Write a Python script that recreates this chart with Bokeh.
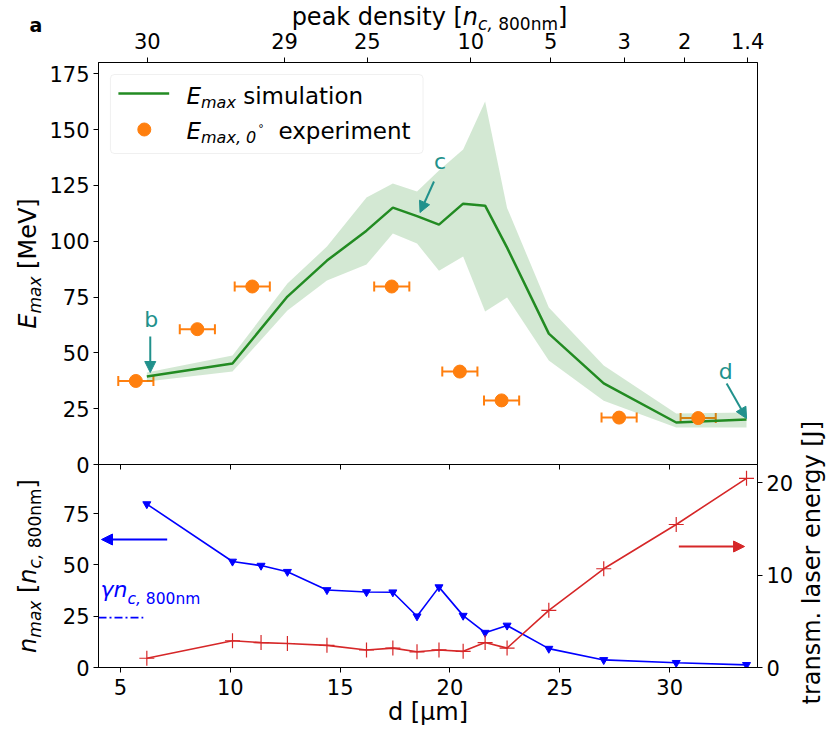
import math
from bokeh.plotting import figure
from bokeh.models import (Range1d, LinearAxis, FixedTicker, Label, Arrow, NormalHead,
                          Whisker, TeeHead, ColumnDataSource, BoxAnnotation)
from bokeh.layouts import column, row
from bokeh.embed import file_html
from bokeh.resources import INLINE

# ---------------- data ----------------
d_sim = [6.2, 10.1, 12.6, 14.4, 16.2, 17.4, 18.5, 19.5, 20.6, 21.6, 22.6, 24.5, 27.0, 30.3, 33.5]
E_sim = [39.4, 45.2, 75.2, 91.3, 104.7, 115.0, 111.2, 107.4, 116.8, 115.9, 97.1, 58.6, 36.3, 18.8, 20.1]
E_sim_hi = [41.2, 48.8, 81.0, 97.6, 119.5, 125.8, 122.2, 131.6, 141.0, 162.5, 114.9, 70.3, 44.3, 22.8, 23.3]
E_sim_lo = [37.2, 41.6, 68.9, 82.4, 89.5, 103.4, 98.9, 86.8, 93.1, 68.5, 74.8, 46.6, 28.6, 16.6, 16.6]

d_exp = [5.7, 8.5, 11.0, 17.35, 20.45, 22.35, 27.7, 31.3]
E_exp = [37.4, 60.6, 79.7, 79.7, 41.6, 28.7, 21.0, 20.8]
d_exp_err = [0.8, 0.8, 0.8, 0.8, 0.8, 0.8, 0.8, 0.8]

d_low = [6.2, 10.1, 11.4, 12.6, 14.4, 16.2, 17.4, 18.5, 19.5, 20.6, 21.6, 22.6, 24.5, 27.0, 30.3, 33.5]
n_max = [79.7, 51.7, 49.7, 46.7, 37.8, 36.8, 36.7, 25.0, 39.2, 25.3, 17.0, 20.5, 9.2, 3.7, 2.3, 1.3]
E_trans = [1.0, 2.9, 2.7, 2.6, 2.4, 1.9, 2.1, 1.7, 1.9, 1.75, 2.7, 2.1, 6.2, 10.7, 15.5, 20.5]
gamma_nc = 24.3

top_tick_pos = [6.22, 12.47, 16.24, 20.95, 24.58, 27.93, 30.69, 33.55]
top_tick_lbl = ["30", "29", "25", "10", "5", "3", "2", "1.4"]
E_ticks = [0, 25, 50, 75, 100, 125, 150, 175]
n_ticks = [0, 25, 50, 75]
J_ticks = [0, 10, 20]
d_ticks = [5, 10, 15, 20, 25, 30]

# ---------------- layout constants (page pixels) ----------------
FONT = "DejaVu Sans"
PW, PH = 827, 730
LW, RW, HH = 46, 31, 34           # left strip, right strip, header height
FL, FR = 97, 759                  # frame left / right
T_TOP, T_BOT = 62, 464            # top panel frame
B_BOT = 667                       # bottom panel frame bottom
OV = 14                           # overlap of bottom row onto top panel border
OH = 12                           # overlap of top panel onto header
MW = PW - LW - RW                 # main column width
XMIN, XMAX = 4, 34
EMAX, NMAX, JMAX = 180, 99, 22
BL = 0.29                         # baseline correction (fraction of font size)

GREEN = "#228b22"
ORANGE = "#ff7f0e"
BLUE = "#0000ff"
RED = "#d62728"
TEAL = "#21918c"

TICK_FS = "21px"
LAB, SUB = 24, 17
LEG, LSUB = 23, 16

def px2d(px):
    return XMIN + (px - FL) * (XMAX - XMIN) / (FR - FL)

def py2E(py):
    return (T_BOT - py) * EMAX / (T_BOT - T_TOP)

def py2n(py):
    return (B_BOT - py) * NMAX / (B_BOT - T_BOT)

def py2J(py):
    return (B_BOT - py) * JMAX / (B_BOT - T_BOT)

W_EM = {' ': .318, ',': .318, '.': .318, '[': .390, ']': .390, 'a': .613, 'b': .635, 'c': .550,
        'd': .635, 'e': .615, 'g': .635, 'i': .278, 'k': .579, 'l': .278, 'm': .974, 'n': .634,
        'o': .612, 'p': .635, 'r': .411, 's': .521, 't': .392, 'u': .634, 'x': .592, 'y': .592,
        'E': .632, 'J': .295, 'M': .863, 'V': .684, 'µ': .636, 'γ': .592, '°': .5}
for ch in "0123456789":
    W_EM[ch] = .636

def tw(s, size):
    return sum(W_EM.get(c, 0.6) for c in s) * size

def total(pieces):
    return sum(tw(p[0], p[1]) for p in pieces)

def rich(fig, ax_px, ax_py, x_px, y_px, pieces, vertical=False):
    """Place text pieces; (ax_px, ax_py) is the page pixel of data point (x_range.start, y_range.start)."""
    cum = 0.0
    for txt, size, style, shift, color in pieces:
        lead = len(txt) - len(txt.lstrip(' '))
        t = txt.lstrip(' ')
        c = cum + lead * .318 * size
        comp = BL * size
        if not vertical:
            xo, yo, ang = x_px - ax_px + c, ax_py - (y_px + shift) + comp, 0
        else:
            xo, yo, ang = x_px + shift - ax_px - comp, ax_py - y_px + c, math.pi / 2
        fig.add_layout(Label(x=fig.x_range.start, y=fig.y_range.start, x_offset=xo, y_offset=yo,
                             text=t, text_font=FONT, text_font_size=f"{size}px",
                             text_font_style=style, text_color=color, text_align="left",
                             text_baseline="alphabetic", angle=ang))
        cum += tw(txt, size)
    return cum

def style_axis(ax):
    ax.major_label_text_font = FONT
    ax.major_label_text_font_size = TICK_FS
    ax.major_label_text_color = "black"
    ax.major_tick_out = 5
    ax.major_tick_in = 0
    ax.minor_tick_out = 0
    ax.minor_tick_in = 0
    ax.axis_line_color = "black"
    ax.major_tick_line_color = "black"
    ax.major_label_standoff = 5

def strip(w, h):
    f = figure(width=w, height=h, x_range=Range1d(0, w), y_range=Range1d(0, h), title=None,
               output_backend="svg", toolbar_location=None, min_border=0,
               x_axis_location=None, y_axis_location=None)
    f.grid.visible = False
    f.outline_line_color = None
    f.background_fill_color = "white"
    f.border_fill_color = "white"
    return f

def arrow(fig, x0, y0, x1, y1, color, rng=None):
    kw = dict(y_range_name=rng) if rng else {}
    fig.add_layout(Arrow(end=NormalHead(size=11, fill_color=color, line_color=color),
                         x_start=x0, y_start=y0, x_end=x1, y_end=y1,
                         line_color=color, line_width=2, **kw))

xr = Range1d(XMIN, XMAX)

# ---------------- top panel ----------------
top = figure(width=MW, height=T_BOT + OV - HH + OH, x_range=xr, y_range=Range1d(0, EMAX), title=None,
             x_axis_location="above", output_backend="svg", toolbar_location=None,
             min_border_left=FL - LW, min_border_right=PW - RW - FR,
             min_border_top=T_TOP - HH + OH, min_border_bottom=OV)
top.margin = (-OH, 0, 0, 0)
top.grid.visible = False
top.outline_line_color = "black"
top.outline_line_alpha = 1
top.background_fill_color = "white"
top.border_fill_alpha = 0
top.xaxis.ticker = FixedTicker(ticks=top_tick_pos)
top.xaxis.major_label_overrides = {p: l for p, l in zip(top_tick_pos, top_tick_lbl)}
top.yaxis.ticker = FixedTicker(ticks=E_ticks)
# ticks of the shared x axis at the bottom edge of the upper panel (labels hidden)
inner_ax = LinearAxis(ticker=FixedTicker(ticks=d_ticks), major_label_text_font_size="1px",
                      major_label_text_alpha=0, major_label_standoff=0, major_tick_out=5,
                      major_tick_in=0, minor_tick_out=0, minor_tick_in=0,
                      axis_line_color=None, major_tick_line_color="black")
top.add_layout(inner_ax, "below")
for ax in top.xaxis[:1] + top.yaxis:
    style_axis(ax)
top.xaxis[0].major_label_standoff = 9
top.yaxis.major_label_standoff = 4

top.varea(x=d_sim, y1=E_sim_lo, y2=E_sim_hi, fill_color=GREEN, fill_alpha=0.2)
top.line(d_sim, E_sim, line_color=GREEN, line_width=2.5)

src = ColumnDataSource(dict(base=E_exp, lower=[d - e for d, e in zip(d_exp, d_exp_err)],
                            upper=[d + e for d, e in zip(d_exp, d_exp_err)]))
top.add_layout(Whisker(source=src, base="base", lower="lower", upper="upper", dimension="width",
                       line_color=ORANGE, line_width=2,
                       upper_head=TeeHead(size=10, line_color=ORANGE, line_width=2),
                       lower_head=TeeHead(size=10, line_color=ORANGE, line_width=2)))
top.scatter(d_exp, E_exp, size=13, fill_color=ORANGE, line_color=ORANGE)

arrow(top, px2d(149), py2E(336), px2d(149), py2E(372), TEAL)
arrow(top, px2d(434), py2E(181), px2d(420), py2E(212), TEAL)
arrow(top, px2d(728), py2E(383), px2d(748), py2E(418), TEAL)
for txt, px, py in [("b", 150, 325), ("c", 440, 167), ("d", 727, 377)]:
    top.add_layout(Label(x=px2d(px), y=py2E(py), y_offset=BL * 22, text=txt, text_font=FONT,
                         text_font_size="22px", text_color=TEAL, text_align="center",
                         text_baseline="alphabetic"))

# legend
top.add_layout(BoxAnnotation(left=px2d(109), right=px2d(423), top=py2E(74), bottom=py2E(153),
                             fill_color="white", fill_alpha=0.8, line_color="#cccccc",
                             line_width=1, border_radius=4, level="underlay"))
top.line([px2d(117), px2d(168)], [py2E(93), py2E(93)], line_color=GREEN, line_width=2.5)
top.scatter([px2d(143)], [py2E(129)], size=13, fill_color=ORANGE, line_color=ORANGE)
rich(top, FL, T_BOT, 185, 102, [("E", LEG, "italic", 0, "black"), ("max", LSUB, "italic", 5, "black"),
                                 (" simulation", LEG, "normal", 0, "black")])
w = rich(top, FL, T_BOT, 185, 137, [("E", LEG, "italic", 0, "black"), ("max, 0", LSUB, "italic", 5, "black")])
rich(top, FL, T_BOT, 185 + w + 2, 131, [("°", 11, "normal", 0, "black")])
rich(top, FL, T_BOT, 277, 137, [("experiment", LEG, "normal", 0, "black")])

# ---------------- bottom panel ----------------
bot = figure(width=MW, height=PH - T_BOT, x_range=xr, y_range=Range1d(0, NMAX), title=None,
             output_backend="svg", toolbar_location=None,
             min_border_left=FL - LW, min_border_right=PW - RW - FR, min_border_top=0,
             min_border_bottom=PH - B_BOT)
bot.margin = (-OV, 0, 0, 0)
bot.extra_y_ranges = {"right": Range1d(0, JMAX)}
bot.add_layout(LinearAxis(y_range_name="right", ticker=FixedTicker(ticks=J_ticks)), "right")
bot.grid.visible = False
bot.outline_line_color = "black"
bot.outline_line_alpha = 1
bot.border_fill_alpha = 0
bot.background_fill_alpha = 0
bot.xaxis.ticker = FixedTicker(ticks=d_ticks)
bot.yaxis[0].ticker = FixedTicker(ticks=n_ticks)
for ax in bot.xaxis + bot.yaxis:
    style_axis(ax)
bot.yaxis[0].major_label_standoff = 4
bot.yaxis[1].major_label_standoff = 4
bot.xaxis.major_label_standoff = 6
bot.xaxis.axis_label = "d [µm]"
bot.xaxis.axis_label_text_font = FONT
bot.xaxis.axis_label_text_font_size = f"{LAB}px"
bot.xaxis.axis_label_text_font_style = "normal"
bot.xaxis.axis_label_text_color = "black"
bot.xaxis.axis_label_standoff = 0

bot.line(d_low, n_max, line_color=BLUE, line_width=1.6)
bot.scatter(d_low, n_max, marker="inverted_triangle", size=8, fill_color=BLUE, line_color=BLUE)
bot.line(d_low, E_trans, line_color=RED, line_width=1.6, y_range_name="right")
bot.scatter(d_low, E_trans, marker="cross", size=15, line_color=RED, line_width=1.2,
            y_range_name="right")
bot.line([XMIN, px2d(142)], [gamma_nc, gamma_nc], line_color=BLUE, line_width=1.6,
         line_dash="8 3 2 3")

arrow(bot, px2d(166), py2n(539), px2d(100), py2n(539), BLUE)
arrow(bot, px2d(680), py2J(546), px2d(746), py2J(546), RED, rng="right")

rich(bot, FL, B_BOT, 99, 595, [("γn", 22, "italic", 0, BLUE), ("c,", 15.5, "italic", 8, BLUE),
                                (" 800nm", 15.5, "normal", 8, BLUE)])

# ---------------- header (top axis title); its frame is aligned with the panels ----------------
head = strip(MW, HH)
tlab = [("peak density [", LAB, "normal", 0, "black"), ("n", LAB, "italic", 0, "black"),
        ("c,", SUB, "italic", 5, "black"), (" 800nm", SUB, "normal", 5, "black"),
        ("]", LAB, "normal", 0, "black")]
rich(head, FL, HH, (FL + FR) / 2 - total(tlab) / 2, 23, tlab)

# ---------------- left strip (panel letter, y-axis titles) ----------------
left = strip(LW, PH)
rich(left, 0, PH, 29, 30, [("a", 19, "bold", 0, "black")])
ylab = [("E", LAB, "italic", 0, "black"), ("max", SUB, "italic", 5, "black"),
        (" [MeV]", LAB, "normal", 0, "black")]
rich(left, 0, PH, 34, (T_TOP + T_BOT) / 2 + total(ylab) / 2, ylab, vertical=True)
nlab = [("n", LAB, "italic", 0, "black"), ("max", SUB, "italic", 5, "black"),
        (" [", LAB, "normal", 0, "black"), ("n", LAB, "italic", 0, "black"),
        ("c,", SUB, "italic", 5, "black"), (" 800nm", SUB, "normal", 5, "black"),
        ("]", LAB, "normal", 0, "black")]
rich(left, 0, PH, 34, (T_BOT + B_BOT) / 2 + total(nlab) / 2, nlab, vertical=True)

# ---------------- right strip (right axis title) ----------------
right = strip(RW, PH)
rlab = [("transm. laser energy [J]", LAB, "normal", 0, "black")]
rich(right, PW - RW, PH, 818, 562 + total(rlab) / 2, rlab, vertical=True)

layout = row(left, column(head, top, bot, spacing=0), right, spacing=0)
open("out.html", "w").write(file_html(layout, INLINE))
